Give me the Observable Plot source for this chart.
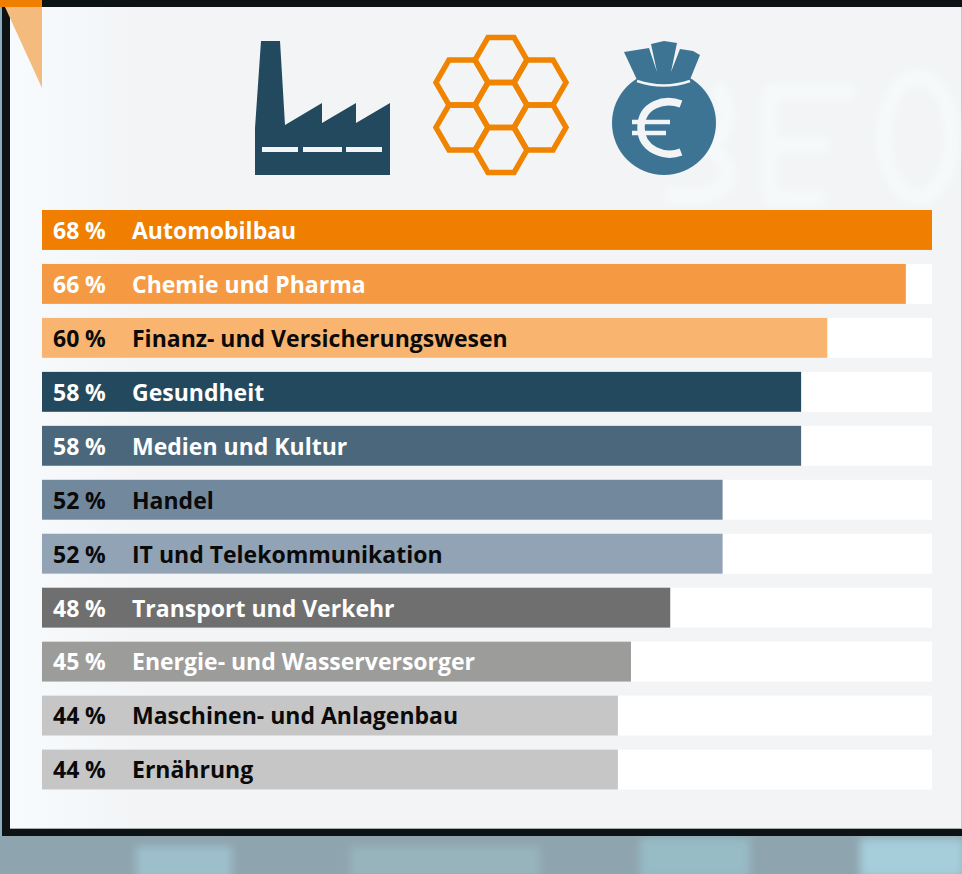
<!DOCTYPE html>
<html lang="de">
<head>
<meta charset="utf-8">
<style>html,body{margin:0;padding:0;background:#8ea4ae}svg{display:block}</style>
<script src="https://cdn.jsdelivr.net/npm/d3@7"></script>
<script src="https://cdn.jsdelivr.net/npm/@observablehq/plot@0.6"></script>
</head>
<body>
<div id="chart"></div>
<script>
const names = ["Automobilbau","Chemie und Pharma","Finanz- und Versicherungswesen","Gesundheit","Medien und Kultur","Handel","IT und Telekommunikation","Transport und Verkehr","Energie- und Wasserversorger","Maschinen- und Anlagenbau","Ernährung"];
const values = [68,66,60,58,58,52,52,48,45,44,44];
const barColors = ["#f07e00","#f59a42","#f9b56f","#23495e","#4a677b","#72889c","#91a3b4","#6f6f6f","#9c9c9b","#c6c6c6","#c6c6c6"];
const textColors = ["#fff","#fff","#0a0a0a","#fff","#fff","#0a0a0a","#0a0a0a","#fff","#fff","#0a0a0a","#0a0a0a"];
const rows = names.map((name,i)=>({name,value:values[i],bar:barColors[i],ink:textColors[i]}));
const FONT = "'Open Sans', Lato, sans-serif";

const ns = "http://www.w3.org/2000/svg";
function decor(markup){
  return () => {
    const g = document.createElementNS(ns,"g");
    g.innerHTML = markup;
    return g;
  };
}
const hexCenters = [[0,-45],[39,-22.5],[39,22.5],[0,45],[-39,22.5],[-39,-22.5],[0,0]];
const hexPath = d3.range(6).map(i=>{
  const a=i*Math.PI/3;
  return (i?"L":"M")+(26*Math.cos(a)).toFixed(2)+" "+(26*Math.sin(a)).toFixed(2);
}).join("")+"Z";

const backdrop = `
  <defs>
    <filter id="soft" x="-10%" y="-10%" width="120%" height="120%"><feGaussianBlur stdDeviation="4"/></filter>
    <filter id="soft2" x="-10%" y="-10%" width="120%" height="120%"><feGaussianBlur stdDeviation="3"/></filter>
    <linearGradient id="panel" x1="0" x2="1" y1="0" y2="0">
      <stop offset="0" stop-color="#f8fbfd"/><stop offset="0.14" stop-color="#f2f4f6"/><stop offset="1" stop-color="#f2f4f6"/>
    </linearGradient>
  </defs>
  <rect width="962" height="874" fill="#8ea4ae"/>
  <g filter="url(#soft)">
    <rect x="136" y="846" width="96" height="34" fill="#9dbfcc"/>
    <rect x="350" y="846" width="190" height="34" fill="#97b3bc"/>
    <rect x="640" y="838" width="110" height="40" fill="#97bcc6"/>
    <rect x="860" y="838" width="104" height="40" fill="#a6cdda"/>
  </g>
  <rect x="0" width="3" height="836" fill="#88aebf"/>
  <rect x="2" y="0" width="960" height="836" fill="#0d1214"/>
  <rect x="10" y="7" width="952" height="822" fill="url(#panel)"/>
  <rect x="10" y="828" width="952" height="1" fill="#a9adaf"/>
  <rect x="961" y="7" width="1" height="822" fill="#c4cbd0"/>
  <g fill="none" stroke="#f6f9fa" stroke-width="16" filter="url(#soft2)">
    <ellipse cx="918" cy="137" rx="34" ry="60"/>
    <path d="M 765 92 H 855 M 770 92 V 198 M 770 145 H 830 M 765 198 H 825"/>
    <path d="M 716 85 Q 730 105 725 125 Q 720 145 700 145 Q 735 155 725 185 Q 700 205 665 192"/>
  </g>
  <rect x="0" y="0" width="42" height="7" fill="#f07e00"/>
  <path d="M5 7 H42 V88 Z" fill="#f3bb7d"/>
  <path d="M261 41 H280 L285 125 L322 103 V123 L356 103 V123 L390 103 V175 H255 V128 Z" fill="#23495e"/>
  <g fill="#f2f4f6"><rect x="262" y="147" width="36" height="5"/><rect x="303" y="147" width="39" height="5"/><rect x="346" y="147" width="36" height="5"/></g>
  <g transform="translate(501 105)" fill="none" stroke="#f08300" stroke-width="5.5" stroke-linejoin="miter">
    ${hexCenters.map(([x,y])=>`<path transform="translate(${x} ${y})" d="${hexPath}"/>`).join("")}
  </g>
  <g fill="#3d7494">
    <circle cx="664" cy="123" r="52"/>
    <path d="M624 52 L649 48 L657 72 L651 44 L664 41 L677 43 L671 72 L680 49 L693 51 L700 55 L689 82 L638 82 Z"/>
  </g>
  <path d="M637 81 Q664 90 690 81" fill="none" stroke="#f2f4f6" stroke-width="2.5"/>
  <g fill="none" stroke="#f2f4f6">
    <path d="M681 104 C 665 98 641 104 641 128 C 641 150 665 158 681 152" stroke-width="7.5"/>
    <path d="M632 122 H670 M632 133 H666" stroke-width="4.5"/>
  </g>
`;

const chart = Plot.plot({
  width: 962,
  height: 874,
  margin: 0,
  style: {background:"none", fontFamily: FONT},
  x: {domain:[0,68], range:[42,932], axis:null},
  y: {domain:names, range:[210,789.5], paddingInner:0.26, paddingOuter:0, align:0, round:false, axis:null},
  color: {type:"identity"},
  marks: [
    decor(backdrop),
    Plot.barX(rows,{x1:()=>0,x2:()=>68,y:"name",fill:"#ffffff"}),
    Plot.barX(rows,{x1:()=>0,x2:"value",y:"name",fill:"bar"}),
    Plot.text(rows,{x:()=>0,y:"name",text:d=>d.value+"\u2005%",textAnchor:"start",dx:10.5,dy:1,fill:"ink",fontSize:23,fontWeight:700,fontFamily:FONT}),
    Plot.text(rows,{x:()=>0,y:"name",text:"name",textAnchor:"start",dx:89.5,dy:1,fill:"ink",fontSize:23,fontWeight:700,fontFamily:FONT})
  ]
});
document.getElementById("chart").append(chart);
</script>
</body>
</html>
